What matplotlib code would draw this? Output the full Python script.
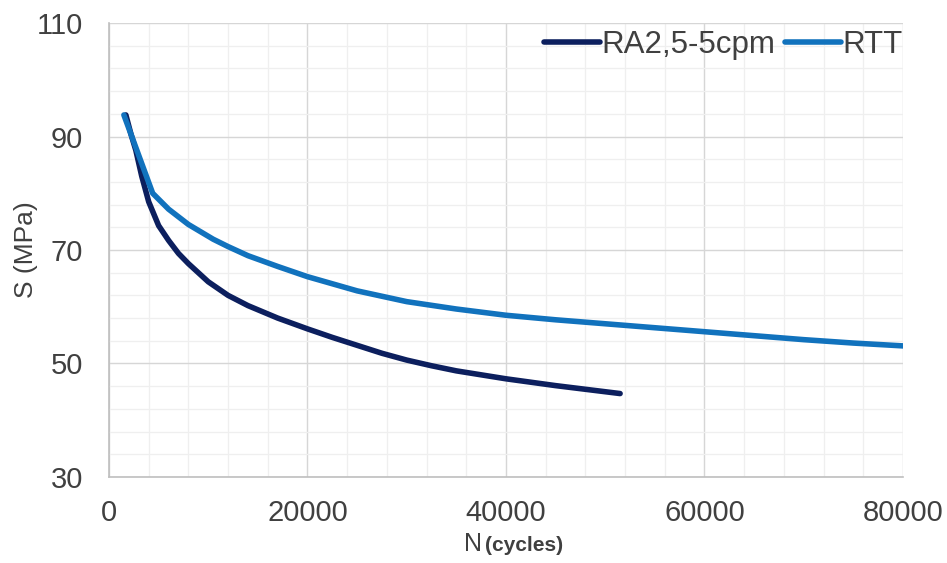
import numpy as np
import matplotlib.pyplot as plt
from matplotlib.ticker import MultipleLocator

# values
n_ra2 = [1700, 2200, 2700, 3300, 4000, 5000, 6000, 7000, 8000, 9000, 10000, 12000, 14000,
         17000, 20000, 22500, 25000, 27500, 30000, 32500, 35000, 40000, 45000, 51500]
s_ra2 = [93.8, 90.5, 87.6, 83.0, 78.5, 74.3, 71.7, 69.4, 67.6, 66.0, 64.4, 62.0, 60.2,
         58.0, 56.1, 54.6, 53.2, 51.8, 50.6, 49.6, 48.7, 47.3, 46.1, 44.7]

n_rtt = [1500, 4400, 6000, 8000, 10500, 12000, 14000, 17000,
         20000, 25000, 30000, 35000, 40000, 45000, 50000, 55000, 60000, 65000, 70000, 75000, 80000]
s_rtt = [93.8, 80.0, 77.2, 74.5, 71.9, 70.6, 69.0, 67.1,
         65.3, 62.8, 60.9, 59.6, 58.5, 57.7, 57.0, 56.3, 55.6, 54.9, 54.2, 53.6, 53.1]

series_names = ["RA2,5-5cpm", "RTT"]
series_colors = ["#0c1f5e", "#1172bd"]
y_ticks = [30, 50, 70, 90, 110]

plt.rcParams['font.family'] = ['Liberation Sans', 'DejaVu Sans']

fig = plt.figure(figsize=(9.47, 5.63), dpi=100)
ax = fig.add_axes([0.1151, 0.1528, 0.8384, 0.8063])

ax.plot(n_ra2, s_ra2, color=series_colors[0], lw=4.0, solid_capstyle='round',
        solid_joinstyle='round', label=series_names[0], zorder=3)
ax.plot(n_rtt, s_rtt, color=series_colors[1], lw=4.0, solid_capstyle='round',
        solid_joinstyle='round', label=series_names[1], zorder=3)

ax.set_xlim(0, 80000)
ax.set_ylim(30, 110)
ax.xaxis.set_major_locator(MultipleLocator(20000))
ax.xaxis.set_minor_locator(MultipleLocator(4000))
ax.set_yticks(y_ticks)
ax.set_yticks(np.arange(30, 111, 4), minor=True)

ax.grid(which='major', color='#d6d6d6', lw=1.0, zorder=0)
ax.grid(which='minor', color='#efefef', lw=0.9, zorder=0)
ax.set_axisbelow(True)

for side in ['top', 'right']:
    ax.spines[side].set_visible(False)
for side in ['left', 'bottom']:
    ax.spines[side].set_color('#bfbfbf')
    ax.spines[side].set_linewidth(1.2)

ax.tick_params(which='both', length=0, labelsize=21, colors='#404040')
ax.tick_params(axis='x', pad=16)
ax.tick_params(axis='y', pad=18.5)

ax.set_ylabel("S (MPa)", fontsize=19, color='#404040', labelpad=-1)

fig.text(0.490, 0.012, "N", fontsize=18, color='#404040', ha='left', va='bottom')
fig.text(0.512, 0.014, "(cycles)", fontsize=15, fontweight='bold', color='#404040', ha='left', va='bottom')

leg = ax.legend(loc='upper right', ncol=2, frameon=False, fontsize=22.5,
                handlelength=1.8, handletextpad=0.05, columnspacing=0.3,
                borderaxespad=0.0, borderpad=0.0, bbox_to_anchor=(1.0, 0.985))
for t in leg.get_texts():
    t.set_color('#404040')

fig.savefig("out.png", dpi=100)
